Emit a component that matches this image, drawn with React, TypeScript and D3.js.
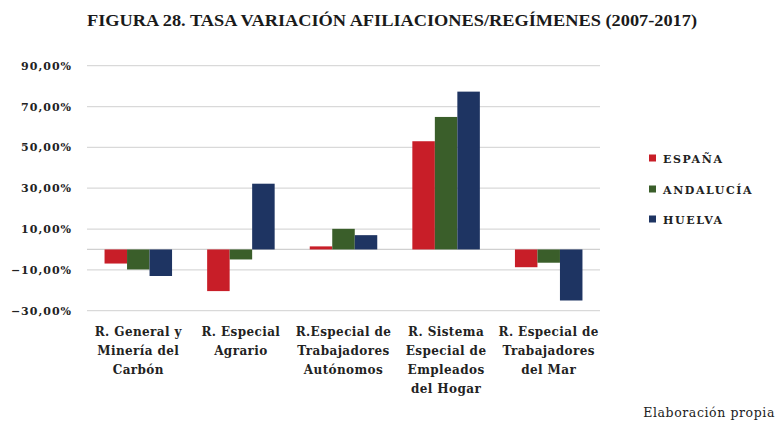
import React, { useEffect, useRef } from "react";
import * as d3 from "d3";

const categories: string[][] = [
  ["R. General y", "Minería del", "Carbón"],
  ["R. Especial", "Agrario"],
  ["R.Especial de", "Trabajadores", "Autónomos"],
  ["R. Sistema", "Especial de", "Empleados", "del Hogar"],
  ["R. Especial de", "Trabajadores", "del Mar"],
];
const categoryKeys = ["general", "agrario", "autonomos", "hogar", "mar"];
const seriesNames = ["ESPAÑA", "ANDALUCÍA", "HUELVA"];
const espana = [-6.9, -20.4, 1.5, 53.0, -8.7];
const andalucia = [-9.8, -4.9, 10.1, 64.9, -6.5];
const huelva = [-13.0, 32.2, 7.0, 77.3, -25.0];
const yTicks = [90, 70, 50, 30, 10, -10, -30];
const colors = ["#c81e28", "#3a5e2a", "#1e3462"];
const title = "FIGURA 28. TASA VARIACIÓN AFILIACIONES/REGÍMENES (2007-2017)";
const note = "Elaboración propia";

export default function App() {
  const ref = useRef<SVGSVGElement>(null);
  useEffect(() => {
    const svg = d3.select(ref.current);
    svg.selectAll("*").remove();
    const W = 780, H = 425;
    const font = "'DejaVu Serif', 'Liberation Serif', serif";
    const tfont = "'Liberation Serif', 'DejaVu Serif', serif";
    const left = 87, right = 600, top = 65.7, bottom = 310.7;
    const y = d3.scaleLinear().domain([-30, 90]).range([bottom, top]);
    const x0 = d3.scaleBand<string>().domain(categoryKeys).range([left, right]).paddingInner(0.342).paddingOuter(0.171);
    const x1 = d3.scaleBand<number>().domain([0, 1, 2]).range([0, x0.bandwidth()]);
    const series = [espana, andalucia, huelva];

    svg.append("rect").attr("width", W).attr("height", H).attr("fill", "#fff");

    svg.append("text").attr("x", 392).attr("y", 26).attr("text-anchor", "middle")
      .attr("font-family", tfont).attr("font-weight", "bold").attr("font-size", 16)
      .attr("textLength", 610).attr("lengthAdjust", "spacingAndGlyphs")
      .attr("fill", "#1a1a1a").text(title);

    const g = svg.append("g");
    g.selectAll("line.grid").data(yTicks).enter().append("line")
      .attr("x1", left).attr("x2", right)
      .attr("y1", (d) => y(d)).attr("y2", (d) => y(d))
      .attr("stroke", "#d9d9d9").attr("stroke-width", 1.2);
    g.append("line").attr("x1", left).attr("x2", right).attr("y1", y(0)).attr("y2", y(0))
      .attr("stroke", "#d0d0d0").attr("stroke-width", 1.2);

    g.selectAll("text.ytick").data(yTicks).enter().append("text")
      .attr("x", 72).attr("y", (d) => y(d) + 4).attr("text-anchor", "end")
      .attr("font-family", font).attr("font-weight", "bold").attr("font-size", 11)
      .attr("letter-spacing", 1)
      .attr("fill", "#222").text((d) => d3.format(".2f")(d).replace(".", ",") + "%");

    series.forEach((vals, si) => {
      g.selectAll(`rect.s${si}`).data(vals).enter().append("rect")
        .attr("x", (_, i) => (x0(categoryKeys[i]) as number) + (x1(si) as number))
        .attr("width", x1.bandwidth())
        .attr("y", (d) => y(Math.max(0, d)))
        .attr("height", (d) => Math.abs(y(d) - y(0)))
        .attr("fill", colors[si]);
    });

    categories.forEach((lines, i) => {
      const cx = (x0(categoryKeys[i]) as number) + x0.bandwidth() / 2;
      const t = g.append("text").attr("text-anchor", "middle")
        .attr("font-family", font).attr("font-weight", "bold").attr("font-size", 12)
        .attr("letter-spacing", 0.4)
        .attr("fill", "#222");
      lines.forEach((ln, j) => {
        t.append("tspan").attr("x", cx).attr("y", 336 + j * 19).text(ln);
      });
    });

    const ly = [158, 189, 219];
    seriesNames.forEach((name, i) => {
      svg.append("rect").attr("x", 649).attr("y", ly[i] - 3.5).attr("width", 7).attr("height", 7).attr("fill", colors[i]);
      svg.append("text").attr("x", 663).attr("y", ly[i] + 4.5)
        .attr("font-family", font).attr("font-weight", "bold").attr("font-size", 11)
        .attr("letter-spacing", 1.6)
        .attr("fill", "#222").text(name);
    });

    svg.append("text").attr("x", 775).attr("y", 417).attr("text-anchor", "end")
      .attr("font-family", font).attr("font-size", 12.5).attr("letter-spacing", 0.6)
      .attr("fill", "#222").text(note);
  }, []);
  return (
    <svg ref={ref} width={780} height={425} style={{ position: "absolute", left: 0, top: 0 }} />
  );
}
